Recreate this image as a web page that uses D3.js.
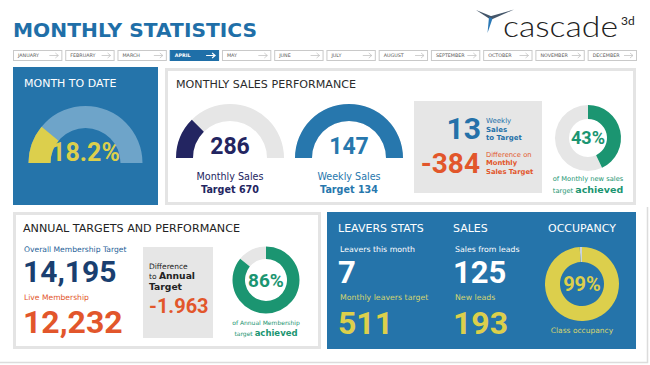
<!DOCTYPE html>
<html><head><meta charset="utf-8">
<script src="https://cdn.jsdelivr.net/npm/d3@7"></script>
<style>html,body{margin:0;padding:0;background:#fff;overflow:hidden}</style>
</head><body>
<svg id="c" width="650" height="365"></svg>
<script>
// ---------- data ----------
const months = ["JANUARY","FEBRUARY","MARCH","APRIL","MAY","JUNE","JULY","AUGUST","SEPTEMBER","OCTOBER","NOVEMBER","DECEMBER"];
const activeMonth = "APRIL";
const monthToDateLabel = "18.2%";
const monthToDateFill = [0.22];
const salesGauges = [
  {label:"Monthly Sales", value:286, target:670, fill:0.25},
  {label:"Weekly Sales", value:147, target:134, fill:1.0}
];
const weeklyToTarget = 13;
const monthlyDifference = -384;
const monthlyAchieved = [0.43];
const membershipTarget = "14,195";
const liveMembership = "12,232";
const annualDifference = "-1.963";
const annualAchieved = [0.86];
const leaversThisMonth = 7;
const leaversTarget = 511;
const salesFromLeads = 125;
const newLeads = 193;
const occupancy = [0.99];

// ---------- styles ----------
const BLUE="#2574aa", NAVY="#232561", GREEN="#1b9571", ORANGE="#e2562b", YELLOW="#dccf4c",
      GREY="#e6e6e6", PALE="#d6d470", LBL="'DejaVu Sans','Noto Sans',sans-serif", NUM="Roboto,sans-serif";
const svg = d3.select("#c");

function txt(g, x, y, s, o){
  const t = g.append("text").attr("x",x).attr("y",y).text(s)
    .attr("font-family", o.f||LBL).attr("font-size", o.s||10)
    .attr("font-weight", o.w||400).attr("fill", o.c||"#222")
    .attr("text-anchor", o.a||"start");
  if(o.tl) t.attr("textLength", o.tl).attr("lengthAdjust","spacingAndGlyphs");
  return t;
}
// one text line made of styled runs
function rich(g, x, y, parts, anchor){
  const t = g.append("text").attr("x",x).attr("y",y).attr("text-anchor", anchor||"start");
  parts.forEach(p => t.append("tspan").text(p.t)
    .attr("font-family", p.f||LBL).attr("font-size", p.s).attr("font-weight", p.w||400).attr("fill", p.c));
  return t;
}

// ---------- header ----------
txt(svg, 13, 37, "MONTHLY STATISTICS", {f:"'DejaVu Sans',sans-serif", s:20, w:700, c:"#1f6fa8", tl:244});

// logo
const logo = svg.append("g");
logo.append("path").attr("d","M476,10 L492,16.5 L490.5,19.5 Z").attr("fill","#44566a");
logo.append("path").attr("d","M489.5,16.5 L514,9.5 L491.5,19.5 Z").attr("fill","#44566a");
logo.append("path").attr("d","M489,17 L492.5,18.5 L487.5,33 Z").attr("fill","#2b78b5");
txt(logo, 503, 37, "cascade", {f:"Lato,sans-serif", s:29, w:300, c:"#222", tl:115});
txt(logo, 621, 25, "3d", {f:"Lato,sans-serif", s:12, w:400, c:"#222"});

// month buttons
const mx = d3.scaleBand().domain(months).range([13, 637]).paddingInner(0.055);
const bw = mx.bandwidth();
const mb = svg.append("g").selectAll("g").data(months).join("g")
  .attr("transform", d => `translate(${mx(d)},50)`);
mb.append("rect").attr("x",0.5).attr("y",0.5).attr("width",bw-1).attr("height",10)
  .attr("fill", d => d===activeMonth ? "#1f6fa8" : "#fff")
  .attr("stroke", d => d===activeMonth ? "#1f6fa8" : "#c9c9c9");
mb.append("text").attr("x",5).attr("y",7.4).text(d=>d)
  .attr("font-family",LBL).attr("font-size",4.8)
  .attr("font-weight", d => d===activeMonth ? 700 : 400)
  .attr("fill", d => d===activeMonth ? "#fff" : "#555");
mb.append("path").attr("d", `M${bw-13},5.5 H${bw-4} M${bw-7},3 L${bw-4},5.5 L${bw-7},8`)
  .attr("fill","none").attr("stroke", d => d===activeMonth ? "#fff" : "#c4c4c4")
  .attr("stroke-width", d => d===activeMonth ? 1.2 : 0.8);

// ---------- scales ----------
const gaugeAngle = d3.scaleLinear().domain([0,1]).range([-Math.PI/2, Math.PI/2]);
const donutAngle = d3.scaleLinear().domain([0,1]).range([0, 2*Math.PI]);

function gauge(g, cx, cy, ro, ri, frac, bg, fg){
  const gg = g.append("g").attr("transform",`translate(${cx},${cy})`);
  const arc = d3.arc().innerRadius(ri).outerRadius(ro);
  gg.append("path").attr("d", arc({startAngle:gaugeAngle(0), endAngle:gaugeAngle(1)})).attr("fill",bg);
  gg.append("path").attr("d", arc({startAngle:gaugeAngle(0), endAngle:gaugeAngle(frac)})).attr("fill",fg);
  return gg;
}
function donut(g, cx, cy, ro, ri, frac, bg, fg){
  const gg = g.append("g").attr("transform",`translate(${cx},${cy})`);
  const arc = d3.arc().innerRadius(ri).outerRadius(ro);
  gg.append("path").attr("d", arc({startAngle:donutAngle(frac), endAngle:donutAngle(1)})).attr("fill",bg);
  gg.append("path").attr("d", arc({startAngle:donutAngle(0), endAngle:donutAngle(frac)})).attr("fill",fg);
  return gg;
}

// ---------- Month to date ----------
const p1 = svg.append("g");
p1.append("rect").attr("x",13).attr("y",67).attr("width",145).attr("height",138).attr("fill",BLUE);
txt(p1, 24, 87, "MONTH TO DATE", {s:11, c:"#fff"});
gauge(p1, 85.5, 163, 57, 35, monthToDateFill[0], "#6ea4c9", YELLOW);
txt(p1, 85.5, 161, monthToDateLabel, {f:NUM, s:25, w:700, c:YELLOW, a:"middle"});

// ---------- Monthly sales performance ----------
const p2 = svg.append("g");
p2.append("rect").attr("x",166.5).attr("y",69.5).attr("width",468).attr("height",134)
  .attr("fill","#fff").attr("stroke","#e4e4e4").attr("stroke-width",3);
txt(p2, 176, 88, "MONTHLY SALES PERFORMANCE", {s:10.8, c:"#2b2b2b", tl:180});
const gcx = [230, 349], gcol = [NAVY, "#2777ad"];
salesGauges.forEach((d,i) => {
  gauge(p2, gcx[i], 158, 54, 37, d.fill, GREY, gcol[i]);
  txt(p2, gcx[i], 154, d.value, {f:NUM, s:23, w:700, c:gcol[i], a:"middle"});
  txt(p2, gcx[i], 180, d.label, {s:9.6, c:gcol[i], a:"middle"});
  txt(p2, gcx[i], 193, "Target " + d.target, {s:9.6, w:700, c:gcol[i], a:"middle"});
});
p2.append("rect").attr("x",414).attr("y",101).attr("width",128).attr("height",92).attr("fill",GREY);
const BL2="#2471a9";
txt(p2, 481, 139, weeklyToTarget, {f:NUM, s:30, w:700, c:BL2, a:"end"});
txt(p2, 486, 123, "Weekly", {s:7, c:BL2});
txt(p2, 486, 131.5, "Sales", {s:7, w:700, c:BL2});
txt(p2, 486, 140, "to Target", {s:7, w:700, c:BL2});
txt(p2, 480, 173, String(monthlyDifference), {f:NUM, s:28, w:700, c:ORANGE, a:"end"});
txt(p2, 486, 156.5, "Difference on", {s:6.8, c:ORANGE});
txt(p2, 486, 165, "Monthly", {s:6.8, w:700, c:ORANGE});
txt(p2, 486, 173.5, "Sales Target", {s:6.8, w:700, c:ORANGE});
donut(p2, 588, 138, 33, 19, monthlyAchieved[0], GREY, GREEN);
txt(p2, 588, 144, d3.format(".0%")(monthlyAchieved[0]), {f:NUM, s:18, w:700, c:GREEN, a:"middle"});
txt(p2, 588, 181, "of Monthly new sales", {s:6.7, c:GREEN, a:"middle"});
rich(p2, 588, 192.5, [{t:"target ", s:6.7, c:GREEN},{t:"achieved", s:9.5, w:700, c:GREEN}], "middle");

// ---------- Annual targets ----------
const p3 = svg.append("g");
p3.append("rect").attr("x",14.5).attr("y",213.5).attr("width",305).attr("height",134)
  .attr("fill","#fff").attr("stroke","#e4e4e4").attr("stroke-width",3);
txt(p3, 23, 232, "ANNUAL TARGETS AND PERFORMANCE", {s:11, c:"#222", tl:217});
txt(p3, 24, 252, "Overall Membership Target", {s:7.6, c:"#275f98"});
txt(p3, 23, 282, membershipTarget, {f:NUM, s:30, w:700, c:"#1a3f70"});
txt(p3, 24, 300, "Live Membership", {s:7.6, c:ORANGE});
txt(p3, 23, 333, liveMembership, {f:NUM, s:32, w:700, c:ORANGE});
p3.append("rect").attr("x",143).attr("y",247).attr("width",70).attr("height",91).attr("fill",GREY);
txt(p3, 149, 268.5, "Difference", {s:7.5, c:"#222"});
rich(p3, 149, 279.2, [{t:"to ", s:7.5, c:"#222"},{t:"Annual", s:9.2, w:700, c:"#222"}]);
txt(p3, 149, 290, "Target", {s:9.2, w:700, c:"#222"});
txt(p3, 149, 313, annualDifference, {f:NUM, s:20, w:700, c:ORANGE});
donut(p3, 266, 280, 33.5, 21, annualAchieved[0], GREY, GREEN);
txt(p3, 266, 287, d3.format(".0%")(annualAchieved[0]), {f:NUM, s:19, w:700, c:GREEN, a:"middle"});
txt(p3, 266, 325, "of Annual Membership", {s:6, c:GREEN, a:"middle"});
rich(p3, 266, 335.5, [{t:"target ", s:6, c:GREEN},{t:"achieved", s:8.5, w:700, c:GREEN}], "middle");

// ---------- Leavers / Sales / Occupancy ----------
const p4 = svg.append("g");
p4.append("rect").attr("x",327).attr("y",212).attr("width",309).attr("height",137).attr("fill",BLUE);
txt(p4, 338, 232, "LEAVERS STATS", {s:11, c:"#fff"});
txt(p4, 453, 232, "SALES", {s:11, c:"#fff"});
txt(p4, 582, 232, "OCCUPANCY", {s:11, c:"#fff", a:"middle"});
const cols = [
  {x:338, top:"Leavers this month", v1:leaversThisMonth, mid:"Monthly leavers target", v2:leaversTarget},
  {x:453, top:"Sales from leads", v1:salesFromLeads, mid:"New leads", v2:newLeads}
];
cols.forEach(c => {
  txt(p4, c.x+2, 252, c.top, {s:7.8, c:"#fff"});
  txt(p4, c.x, 283, String(c.v1), {f:NUM, s:31, w:700, c:"#fff"});
  txt(p4, c.x+2, 300, c.mid, {s:7.8, c:PALE});
  txt(p4, c.x, 333.5, String(c.v2), {f:NUM, s:32, w:700, c:YELLOW});
});
donut(p4, 582, 284, 37, 22, occupancy[0], "#c9d3dc", YELLOW);
txt(p4, 582, 291, d3.format(".0%")(occupancy[0]), {f:NUM, s:20, w:700, c:YELLOW, a:"middle"});
txt(p4, 582, 333, "Class occupancy", {s:7.5, c:PALE, a:"middle"});

// frame
svg.append("path").attr("d","M0,362.5 H647.5 V207").attr("fill","none").attr("stroke","#dcdcdc").attr("stroke-width",1.5);
</script>
</body></html>
